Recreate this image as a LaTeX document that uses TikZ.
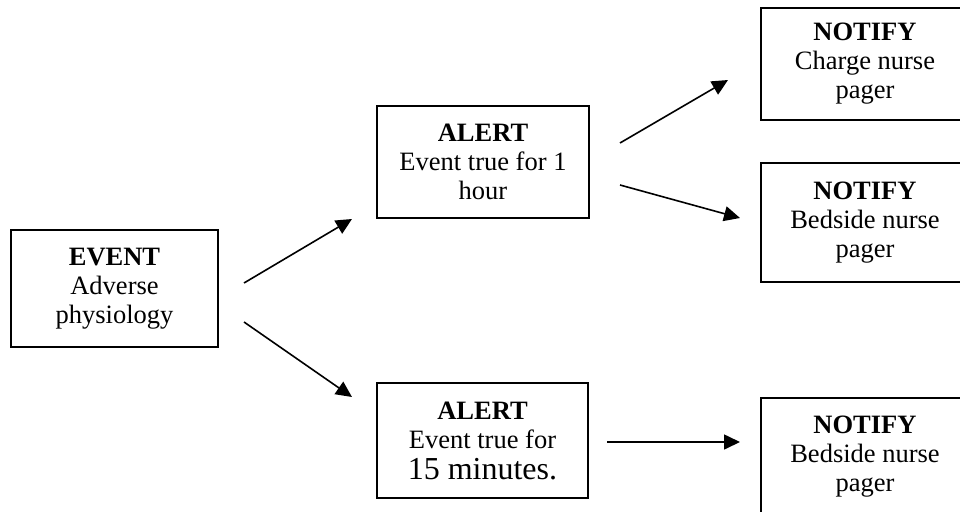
\documentclass[tikz,border=0pt]{standalone}
\usepackage{fontspec}
\setmainfont{Liberation Serif}
\usetikzlibrary{arrows.meta}
\begin{document}
\begin{tikzpicture}[x=1pt,y=-1pt,
  box/.style={draw, line width=1.7pt, align=center, inner sep=0pt,
    font=\fontsize{26.5}{29}\selectfont},
  link/.style={line width=1.6pt, -{Triangle[length=16pt,width=15pt]}}]
\useasboundingbox (0,0) rectangle (960,511);
\clip (0,0) rectangle (960,511);

% boxes
\node[box, minimum width=207pt, minimum height=117pt] (event) at (114.5,288.5)
  {\textbf{EVENT}\\Adverse\\physiology};
\node[box, minimum width=212pt, minimum height=112pt] (alert1) at (483,162)
  {\textbf{ALERT}\\Event true for 1\\hour};
\node[box, minimum width=211pt, minimum height=115pt] (alert2) at (482.5,440.5)
  {\textbf{ALERT}\\Event true for\\[2pt]{\fontsize{32}{34}\selectfont 15 minutes.}};
\node[box, minimum width=208pt, minimum height=112pt] (notify1) at (865,64)
  {\textbf{NOTIFY}\\Charge nurse\\pager};
\node[box, minimum width=208pt, minimum height=119pt] (notify2) at (865,222.5)
  {\textbf{NOTIFY}\\Bedside nurse\\pager};
\node[box, minimum width=208pt, minimum height=117pt] (notify3) at (865,456.5)
  {\textbf{NOTIFY}\\Bedside nurse\\pager};

% arrow end points, set apart from the boxes
\coordinate (e1) at (244,283);  \coordinate (a1in) at (352,219);
\coordinate (e2) at (244,322);  \coordinate (a2in) at (352,397);
\coordinate (a1o1) at (620,143); \coordinate (n1in) at (728,80);
\coordinate (a1o2) at (620,185); \coordinate (n2in) at (740,218);
\coordinate (a2o) at (607,442);  \coordinate (n3in) at (740,442);

\draw[link] (e1) -- (a1in);
\draw[link] (e2) -- (a2in);
\draw[link] (a1o1) -- (n1in);
\draw[link] (a1o2) -- (n2in);
\draw[link] (a2o) -- (n3in);
\end{tikzpicture}
\end{document}
